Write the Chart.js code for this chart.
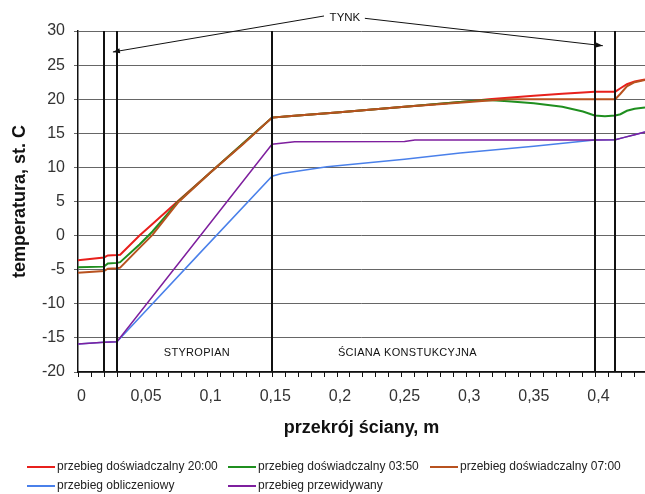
<!DOCTYPE html>
<html>
<head>
<meta charset="utf-8">
<script src="https://cdn.jsdelivr.net/npm/chart.js@4/dist/chart.umd.min.js"></script>
<style>
  html, body { margin: 0; padding: 0; background: #fff; }
  #wrap { width: 645px; height: 494px; }
</style>
</head>
<body>
<div id="wrap"><canvas id="tempChart" width="645" height="494"></canvas></div>
<script>
// Data
const seriesNames = [
    'przebieg doświadczalny 20:00',
    'przebieg doświadczalny 03:50',
    'przebieg doświadczalny 07:00',
    'przebieg obliczeniowy',
    'przebieg przewidywany'
];

// measured profiles (shared positions)
const expX = [-0.0026, 0.0175, 0.0205, 0.0275, 0.03, 0.045, 0.055, 0.075, 0.1, 0.125, 0.1475, 0.16, 0.2, 0.25, 0.3, 0.315, 0.33, 0.35, 0.372, 0.388, 0.397, 0.405, 0.413, 0.417, 0.422, 0.428, 0.436];
const red2000 = [-3.6, -3.2, -2.9, -2.85, -2.8, 0.0, 1.7, 5.1, 9.3, 13.5, 17.3, 17.5, 18.1, 18.9, 19.7, 20.0, 20.2, 20.5, 20.8, 21.0, 21.1, 21.1, 21.1, 21.6, 22.2, 22.6, 22.9];
const green0350 = [-4.65, -4.55, -4.1, -4.0, -3.9, -1.3, 0.6, 5.0, 9.3, 13.5, 17.3, 17.5, 18.1, 18.9, 19.7, 19.9, 19.7, 19.4, 18.9, 18.2, 17.6, 17.5, 17.6, 17.8, 18.3, 18.6, 18.8];
const brown0700 = [-5.45, -5.2, -4.85, -4.8, -4.7, -1.8, 0.1, 4.9, 9.3, 13.4, 17.3, 17.5, 18.1, 18.9, 19.6, 19.8, 20.0, 20.0, 20.0, 20.0, 20.0, 20.0, 20.0, 20.8, 21.9, 22.5, 22.8];

// calculated profile
const calcX = [-0.0026, 0.0175, 0.0275, 0.09, 0.1475, 0.155, 0.19, 0.25, 0.293, 0.35, 0.397, 0.413, 0.42, 0.428, 0.436];
const calcY = [-15.9, -15.65, -15.55, -2.9, 8.7, 9.1, 10.1, 11.2, 12.1, 13.1, 14.0, 14.05, 14.4, 14.8, 15.2];

// predicted profile
const predX = [-0.0026, 0.0175, 0.0275, 0.09, 0.1475, 0.165, 0.25, 0.258, 0.35, 0.397, 0.413, 0.42, 0.428, 0.436];
const predY = [-15.9, -15.65, -15.55, -0.5, 13.4, 13.75, 13.8, 14.0, 14.0, 14.0, 14.05, 14.4, 14.8, 15.2];

// axes
const xTickValues = [0, 0.05, 0.1, 0.15, 0.2, 0.25, 0.3, 0.35, 0.4];
const xTickLabels = ['0', '0,05', '0,1', '0,15', '0,2', '0,25', '0,3', '0,35', '0,4'];
const yTickValues = [-20, -15, -10, -5, 0, 5, 10, 15, 20, 25, 30];
const xMin = -0.0026, xMax = 0.436;

// layer boundaries and labels
const layerBoundaries = [0.0175, 0.0275, 0.1475, 0.397, 0.413];
const layerNames = ['STYROPIAN', 'ŚCIANA KONSTUKCYJNA'];
const layerNameX = [0.0894, 0.2522];
const layerNameY = [-17.2, -17.2];
const tynkText = 'TYNK';
const tynkPos = [0.2039, 32.0];
const arrowFrom = [[0.1877, 32.2], [0.2193, 31.86]];
const arrowTo = [[0.0244, 26.92], [0.4034, 27.84]];

const colors = ['#e8201c', '#1f8f1f', '#b8521f', '#4a80ea', '#7e1f9e'];
const FONT = "'Liberation Sans', Arial, sans-serif";

function toPoints(xs, ys) {
    return xs.map((x, i) => ({ x: x, y: ys[i] }));
}

// layer lines, labels and TYNK arrows
const annotationPlugin = {
    id: 'layers',
    afterDatasetsDraw(chart) {
        const { ctx, chartArea, scales: { x, y } } = chart;
        ctx.save();
        ctx.strokeStyle = '#111';
        ctx.lineWidth = 2;
        layerBoundaries.forEach(v => {
            const px = Math.round(x.getPixelForValue(v));
            ctx.beginPath();
            ctx.moveTo(px, chartArea.top);
            ctx.lineTo(px, chartArea.bottom);
            ctx.stroke();
        });

        ctx.fillStyle = '#111';
        ctx.textAlign = 'center';
        ctx.textBaseline = 'middle';
        ctx.font = '11px ' + FONT;
        ctx.letterSpacing = '0.3px';
        layerNames.forEach((t, i) => {
            ctx.fillText(t, x.getPixelForValue(layerNameX[i]), y.getPixelForValue(layerNameY[i]));
        });
        ctx.font = '11.5px ' + FONT;
        ctx.letterSpacing = '0px';
        ctx.fillText(tynkText, x.getPixelForValue(tynkPos[0]), y.getPixelForValue(tynkPos[1]));

        ctx.lineWidth = 1;
        arrowFrom.forEach((f, i) => {
            const x0 = x.getPixelForValue(f[0]), y0 = y.getPixelForValue(f[1]);
            const x1 = x.getPixelForValue(arrowTo[i][0]), y1 = y.getPixelForValue(arrowTo[i][1]);
            ctx.beginPath();
            ctx.moveTo(x0, y0);
            ctx.lineTo(x1, y1);
            ctx.stroke();
            const a = Math.atan2(y1 - y0, x1 - x0);
            ctx.beginPath();
            ctx.moveTo(x1, y1);
            ctx.lineTo(x1 - 7 * Math.cos(a) + 2.5 * Math.sin(a), y1 - 7 * Math.sin(a) - 2.5 * Math.cos(a));
            ctx.lineTo(x1 - 7 * Math.cos(a) - 2.5 * Math.sin(a), y1 - 7 * Math.sin(a) + 2.5 * Math.cos(a));
            ctx.closePath();
            ctx.fill();
        });
        ctx.restore();
    },
    afterDraw(chart) {
        const { ctx, chartArea, scales: { x } } = chart;
        ctx.save();
        // minor tick marks every 0,01 from the left edge
        ctx.strokeStyle = '#111';
        ctx.lineWidth = 1;
        for (let v = xMin; v <= xMax + 1e-9; v += 0.01) {
            const px = Math.round(x.getPixelForValue(v)) + 0.5;
            ctx.beginPath();
            ctx.moveTo(px, chartArea.bottom);
            ctx.lineTo(px, chartArea.bottom + 5);
            ctx.stroke();
        }

        // legend laid out in columns like the original
        const legendX = [27, 228, 430, 27, 228];
        const legendY = [467, 467, 467, 486, 486];
        ctx.font = '12px ' + FONT;
        ctx.textBaseline = 'middle';
        ctx.textAlign = 'left';
        chart.data.datasets.forEach((ds, i) => {
            ctx.strokeStyle = ds.borderColor;
            ctx.lineWidth = 2;
            ctx.beginPath();
            ctx.moveTo(legendX[i], legendY[i]);
            ctx.lineTo(legendX[i] + 28, legendY[i]);
            ctx.stroke();
            ctx.fillStyle = '#222';
            ctx.fillText(ds.label, legendX[i] + 30, legendY[i]);
        });
        ctx.restore();
    }
};

const ctx = document.getElementById('tempChart').getContext('2d');
const allData = [
    toPoints(expX, red2000),
    toPoints(expX, green0350),
    toPoints(expX, brown0700),
    toPoints(calcX, calcY),
    toPoints(predX, predY)
];
const widths = [2, 2, 2, 1.5, 1.5];
const orders = [5, 4, 3, 2, 1];

new Chart(ctx, {
    type: 'line',
    data: {
        datasets: allData.map((d, i) => ({
            label: seriesNames[i],
            data: d,
            borderColor: colors[i],
            backgroundColor: colors[i],
            borderWidth: widths[i],
            pointRadius: 0,
            tension: 0,
            fill: false,
            order: orders[i]
        }))
    },
    options: {
        responsive: false,
        devicePixelRatio: 1,
        animation: false,
        layout: { padding: { top: 31, right: 0, bottom: 0, left: 0 } },
        plugins: {
            legend: { display: false },
            tooltip: { enabled: false }
        },
        scales: {
            x: {
                type: 'linear',
                min: xMin,
                max: xMax,
                afterBuildTicks: (scale) => { scale.ticks = xTickValues.map(v => ({ value: v })); },
                afterFit: (scale) => { scale.height = 122; },
                grid: { display: false, drawTicks: false },
                border: { display: true, color: '#111', width: 1.5 },
                ticks: {
                    autoSkip: false,
                    maxRotation: 0,
                    padding: 15,
                    color: '#333',
                    font: { family: FONT, size: 16 },
                    callback: (value, index) => xTickLabels[index]
                },
                title: {
                    display: true,
                    text: 'przekrój ściany, m',
                    color: '#111',
                    font: { family: FONT, size: 18, weight: 'bold' },
                    padding: { top: 0, bottom: 55 }
                }
            },
            y: {
                min: -20,
                max: 30,
                afterBuildTicks: (scale) => { scale.ticks = yTickValues.map(v => ({ value: v })); },
                afterFit: (scale) => { scale.width = 78; },
                grid: { color: '#666', lineWidth: 1, tickLength: 4 },
                border: { display: true, color: '#111', width: 1.5 },
                ticks: {
                    padding: 9,
                    color: '#333',
                    font: { family: FONT, size: 16 },
                    callback: (value) => String(value)
                },
                title: {
                    display: true,
                    text: 'temperatura, st. C',
                    color: '#111',
                    font: { family: FONT, size: 18, weight: 'bold' },
                    padding: { top: 9, bottom: 0 }
                }
            }
        }
    },
    plugins: [annotationPlugin]
});
</script>
</body>
</html>
